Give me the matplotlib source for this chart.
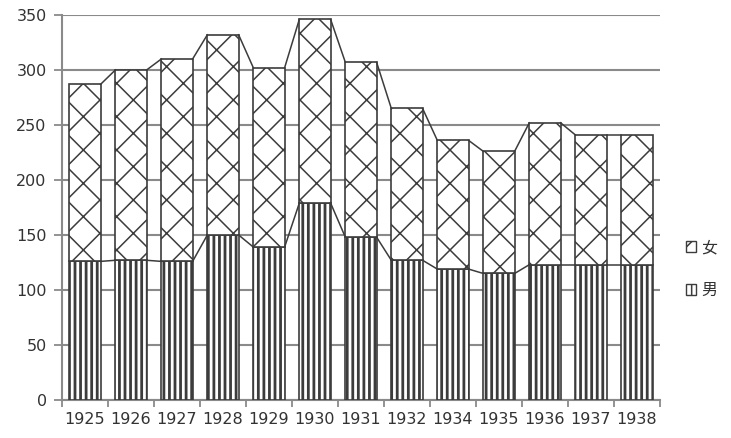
import numpy as np
import matplotlib.pyplot as plt
from matplotlib.patches import Patch

plt.rcParams['font.family'] = ['DejaVu Sans', 'Noto Sans CJK SC']

years = ["1925", "1926", "1927", "1928", "1929", "1930", "1931",
         "1932", "1934", "1935", "1936", "1937", "1938"]
male = [126, 127, 126, 150, 139, 179, 148, 127, 119, 115, 123, 123, 123]
total = [287, 300, 310, 332, 302, 346, 307, 265, 236, 226, 252, 241, 241]
female = [t - m for t, m in zip(total, male)]

EDGE = "#3c3c3c"
GRID = "#8a8a8a"
TEXT = "#333333"
width = 0.68

fig = plt.figure(figsize=(7.31, 4.38), dpi=100)
ax = fig.add_axes([0.0848, 0.0868, 0.818, 0.879])

x = np.arange(len(years))

plt.rcParams['hatch.color'] = EDGE
plt.rcParams['hatch.linewidth'] = 2.0
male_bars = ax.bar(x, male, width, color="white", edgecolor=EDGE,
                   hatch="|||", linewidth=1.2, zorder=3)
plt.rcParams['hatch.linewidth'] = 1.1
female_bars = ax.bar(x, female, width, bottom=male, color="white",
                     edgecolor=EDGE, hatch="x", linewidth=1.2, zorder=3)
for b in male_bars:
    if hasattr(b, "set_hatch_linewidth"):
        b.set_hatch_linewidth(2.0)
for b in female_bars:
    if hasattr(b, "set_hatch_linewidth"):
        b.set_hatch_linewidth(1.1)

# series lines joining the bar tops
for tops in (male, total):
    for i in range(len(years) - 1):
        ax.plot([x[i] + width / 2, x[i + 1] - width / 2], [tops[i], tops[i + 1]],
                color=EDGE, lw=1.1, zorder=4)

ax.set_xlim(-0.5, len(years) - 0.5)
ax.set_ylim(0, 350)
ax.set_yticks(np.arange(0, 351, 50))
ax.yaxis.grid(True, color=GRID, lw=1.5, zorder=0)
ax.set_axisbelow(True)

ax.set_xticks(x)
ax.set_xticklabels(years)
ax.set_xticks(np.arange(-0.5, len(years), 1), minor=True)
ax.tick_params(axis="x", which="major", length=0, pad=9, labelsize=11.5, colors=TEXT)
ax.tick_params(axis="x", which="minor", length=5, width=1.3, color=GRID)
ax.tick_params(axis="y", length=6, width=1.3, color=GRID, labelsize=11.5,
               labelcolor=TEXT, pad=5)

for s in ("top", "right"):
    ax.spines[s].set_visible(False)
for s in ("left", "bottom"):
    ax.spines[s].set_color(GRID)
    ax.spines[s].set_linewidth(1.5)

handles = [Patch(facecolor="white", edgecolor=EDGE, hatch="x", label="女"),
           Patch(facecolor="white", edgecolor=EDGE, hatch="|||", label="男")]
fig.legend(handles=handles, loc="center left", bbox_to_anchor=(686 / 731, 1 - 269 / 438),
           frameon=False, borderpad=0, borderaxespad=0,
           handlelength=0.6, handleheight=0.7, handletextpad=0.35,
           labelspacing=1.6, labelcolor=TEXT,
           prop={"family": ["Noto Sans CJK SC", "DejaVu Sans"], "size": 11.5})

fig.savefig("out.png", dpi=100)
